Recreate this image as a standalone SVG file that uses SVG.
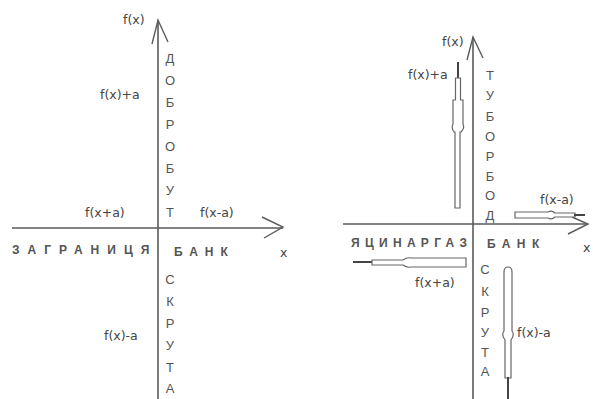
<svg xmlns="http://www.w3.org/2000/svg" width="593" height="399" viewBox="0 0 593 399">
<style>
.ax{stroke:#5a5a5a;stroke-width:1.6;fill:none}
.ah{stroke:#5a5a5a;stroke-width:1.4;fill:none}
.blk{stroke:#666;stroke-width:1.2;fill:#fff}
.tip{stroke:#444;stroke-width:2}
.lb{font-family:"DejaVu Sans",Verdana,sans-serif;font-size:12.5px;fill:#444}
.vl{font-family:"Liberation Sans",Arial,sans-serif;font-size:13px;fill:#555;text-anchor:middle}
.wd{font-family:"Liberation Sans",Arial,sans-serif;font-size:12px;font-weight:bold;fill:#555}
</style>
<rect width="593" height="399" fill="#fff"/>
<g id="connectors">
  <line class="ax" x1="158" y1="20" x2="158" y2="399"/>
  <polyline class="ah" points="152,44 158,20 168,42"/>
  <line class="ax" x1="12" y1="228" x2="283" y2="228"/>
  <polyline class="ah" points="262,217 283,227 264,238"/>
  <line class="ax" x1="473" y1="37" x2="473" y2="399"/>
  <polyline class="ah" points="467,60 473,37 483,58"/>
  <line class="ax" x1="343" y1="224" x2="588" y2="224"/>
  <polyline class="ah" points="572,217 588,224 568,234"/>
</g>
<g id="arrow-up">
  <line class="tip" x1="458" y1="62" x2="458" y2="79"/>
  <path class="blk" d="M455.5,78 H460.5 V100 H463 V124 Q465,128 461,132 H460 V208 H455 V132 H454 Q451,128 453,124 V100 H455.5 Z"/>
</g>
<g id="arrow-left">
  <line class="tip" x1="353" y1="262" x2="373" y2="262"/>
  <path class="blk" d="M372,260 H403 Q407,257 411,258 H466 V267 H411 Q407,268 403,265 H372 Z"/>
</g>
<g id="arrow-right">
  <path class="blk" d="M515,212 H548 Q552,210 555,213 H575 V217 H555 Q552,220 548,218 H515 Z"/>
  <line class="tip" x1="574" y1="215" x2="585" y2="215"/>
</g>
<g id="arrow-down">
  <path class="blk" d="M504,272 Q504,267 508,267 Q512,267 512,272 V331 Q515,335 511,340 V378 H505 V340 Q501,335 504,331 Z"/>
  <line class="tip" x1="508" y1="377" x2="508" y2="399"/>
</g>
<g id="left-labels">
  <text class="lb" x="123" y="24">f(x)</text>
  <text class="lb" x="100" y="99">f(x)+a</text>
  <text class="lb" x="85" y="217">f(x+a)</text>
  <text class="lb" x="200" y="217">f(x-a)</text>
  <text class="lb" x="104" y="340">f(x)-a</text>
  <text class="lb" x="280" y="257">x</text>
</g>
<g id="left-words">
  <text class="wd" x="12" y="254" letter-spacing="8">ЗАГРАНИЦЯ</text>
  <text class="wd" x="174" y="256" letter-spacing="7">БАНК</text>
  <text class="vl" x="170"><tspan x="170" y="63">Д</tspan><tspan x="170" y="85">О</tspan><tspan x="170" y="107">Б</tspan><tspan x="170" y="129">Р</tspan><tspan x="170" y="151">О</tspan><tspan x="170" y="173">Б</tspan><tspan x="170" y="195">У</tspan><tspan x="170" y="217">Т</tspan></text>
  <text class="vl" x="170"><tspan x="170" y="284">С</tspan><tspan x="170" y="306">К</tspan><tspan x="170" y="328">Р</tspan><tspan x="170" y="350">У</tspan><tspan x="170" y="372">Т</tspan><tspan x="170" y="393">А</tspan></text>
</g>
<g id="right-labels">
  <text class="lb" x="442" y="46">f(x)</text>
  <text class="lb" x="408" y="79">f(x)+a</text>
  <text class="lb" x="540" y="204">f(x-a)</text>
  <text class="lb" x="415" y="287">f(x+a)</text>
  <text class="lb" x="517" y="337">f(x)-a</text>
  <text class="lb" x="583" y="252">x</text>
</g>
<g id="right-words">
  <text class="wd" x="351" y="247" letter-spacing="5.3">ЯЦИНАРГАЗ</text>
  <text class="wd" x="487" y="248" letter-spacing="6.5">БАНК</text>
  <text class="vl" x="490"><tspan x="490" y="80">Т</tspan><tspan x="490" y="100">У</tspan><tspan x="490" y="121">Б</tspan><tspan x="490" y="141">О</tspan><tspan x="490" y="161">Р</tspan><tspan x="490" y="181">Б</tspan><tspan x="490" y="200">О</tspan><tspan x="490" y="220">Д</tspan></text>
  <text class="vl" x="485"><tspan x="485" y="274">С</tspan><tspan x="485" y="296">К</tspan><tspan x="485" y="317">Р</tspan><tspan x="485" y="337">У</tspan><tspan x="485" y="357">Т</tspan><tspan x="485" y="376">А</tspan></text>
</g>
</svg>
